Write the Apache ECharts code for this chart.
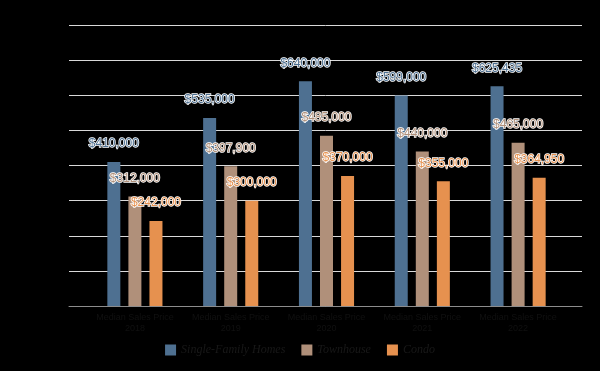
<!DOCTYPE html>
<html>
<head>
<meta charset="utf-8">
<script src="https://cdn.jsdelivr.net/npm/echarts@6/dist/echarts.min.js"></script>
<style>
html,body{margin:0;padding:0;background:#000;}
#c{width:600px;height:371px;}
</style>
</head>
<body>
<div id="c"></div>
<script>
var categories = ['Median Sales Price\n2018', 'Median Sales Price\n2019', 'Median Sales Price\n2020', 'Median Sales Price\n2021', 'Median Sales Price\n2022'];
var seriesNames = ['Single-Family Homes', 'Townhouse', 'Condo'];
var singleFamily = [410000, 535000, 640000, 599000, 625435];
var townhouse = [312000, 397900, 485000, 440000, 465000];
var condo = [242000, 300000, 370000, 355000, 364950];
var colors = ['#4E7091', '#B0907A', '#E6914F'];
var yMin = 0, yMax = 800000, yStep = 100000;

function fmt(v){ return '$' + v.toLocaleString('en-US'); }

var chart = echarts.init(document.getElementById('c'));
function mk(name, data, color){
  return {
    name: name, type: 'bar', xAxisIndex: 1, yAxisIndex: 1, data: data,
    barWidth: 13, barGap: '62%',
    itemStyle: {color: color},
    label: {
      show: true, position: 'top', distance: 12,
      formatter: function(p){ return fmt(p.value); },
      color: color, fontFamily: 'Liberation Sans', fontSize: 12,
      textBorderColor: '#fff', textBorderWidth: 1.5
    }
  };
}
chart.setOption({
  backgroundColor: 'transparent',
  animation: false,
  color: colors,
  grid: [
    {left: 69, right: 18, top: 25, bottom: 65},
    {left: 87, right: 34, top: 25, bottom: 65}
  ],
  xAxis: [
    {type: 'category', gridIndex: 0, data: categories,
     axisLine: {show: true, lineStyle: {color: '#8c8c8c', width: 1}},
     axisTick: {show: false}, axisLabel: {show: false}},
    {type: 'category', gridIndex: 1, data: categories,
     axisLine: {show: false}, axisTick: {show: false},
     axisLabel: {interval: 0, color: '#101010', fontSize: 9, fontFamily: 'Liberation Sans', margin: 6, lineHeight: 11}}
  ],
  yAxis: [
    {type: 'value', gridIndex: 0, min: yMin, max: yMax, interval: yStep,
     axisLine: {show: false}, axisTick: {show: false},
     axisLabel: {show: false},
     splitLine: {lineStyle: {color: '#D9D9D9', width: 1}}},
    {type: 'value', gridIndex: 1, min: yMin, max: yMax, interval: yStep,
     show: false, splitLine: {show: false}}
  ],
  legend: {
    data: seriesNames, left: 'center', top: 339,
    icon: 'rect', itemWidth: 11, itemHeight: 11, itemGap: 16,
    textStyle: {color: '#181818', fontStyle: 'italic', fontFamily: 'Liberation Serif', fontSize: 12}
  },
  series: [
    mk(seriesNames[0], singleFamily, colors[0]),
    mk(seriesNames[1], townhouse, colors[1]),
    mk(seriesNames[2], condo, colors[2])
  ]
});
</script>
</body>
</html>
